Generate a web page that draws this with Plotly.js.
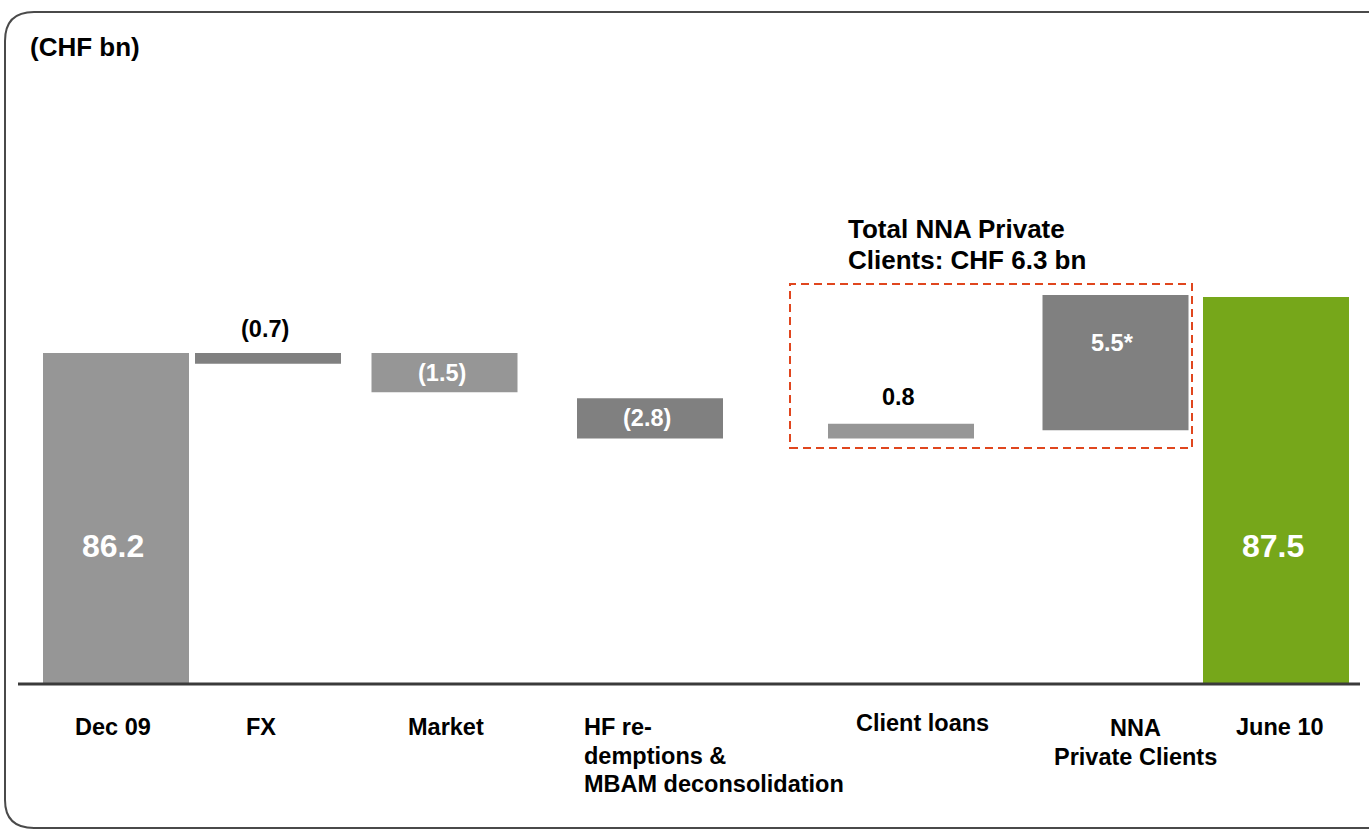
<!DOCTYPE html>
<html>
<head>
<meta charset="utf-8">
<script src="https://cdn.plot.ly/plotly-3.0.1.min.js"></script>
<style>html,body{margin:0;padding:0;background:#fff;}#chart{width:1369px;height:830px;}</style>
</head>
<body>
<div id="chart"></div>
<script>
// ---- data (CHF bn) ----
const categories = ['Dec 09', 'FX', 'Market', 'HF re-<br>demptions &<br>MBAM deconsolidation', 'Client loans', 'NNA<br>Private Clients', 'June 10'];
const valueLabels = ['86.2', '(0.7)', '(1.5)', '(2.8)', '0.8', '5.5*', '87.5'];
// bar extents as drawn in the slide (not to scale)
const barBottom = [0, 83.4, 76.0, 63.9, 63.9, 66.1, 0];
const barTop = [86.2, 86.2, 86.2, 74.4, 67.8, 101.3, 100.8];
const unitLabel = '(CHF bn)';
const calloutLines = ['Total NNA Private', 'Clients: CHF 6.3 bn'];

// ---- layout / style ----
const W = 1369, H = 830;
const PX_PER_UNIT = 3.84, BASE_PX = 684;
const barCenters = [116, 268, 444.5, 650, 901, 1115.5, 1276];
const barWidth = 146;
const barColors = ['#969696', '#808080', '#969696', '#808080', '#969696', '#808080', '#76A71A'];
// where each value label sits
const labelMode = ['base', 'above', 'middle', 'middle', 'above', 'top', 'base'];
const labelShift = [138, 24, 0, 0, 27, -48, 138];
const labelColor = ['#fff', '#000', '#fff', '#fff', '#000', '#fff', '#fff'];
const labelSize = [32, 23.5, 23.5, 23.5, 23.5, 23.5, 32];
// category label placement
const catX = [113, 261, 446, 582, 922, 1135, 1280];
const catAnchor = ['center', 'center', 'center', 'left', 'center', 'center', 'center'];
const catY = [727, 727, 727, 727, 723, 728, 727];
const LINE = 28.5;

const font = 'Liberation Sans, Arial, Helvetica, sans-serif';
const py = v => 1 - v / H; // pixel row -> paper

const trace = {
  type: 'bar',
  x: barCenters,
  y: barTop.map((t, i) => t - barBottom[i]),
  base: barBottom,
  width: barCenters.map(() => barWidth),
  marker: {color: barColors, line: {width: 0}},
  hoverinfo: 'skip',
  showlegend: false
};

const annotations = [];
valueLabels.forEach((lab, i) => {
  let y;
  if (labelMode[i] === 'base') y = barBottom[i];
  else if (labelMode[i] === 'above' || labelMode[i] === 'top') y = barTop[i];
  else y = (barTop[i] + barBottom[i]) / 2;
  annotations.push({
    xref: 'x', yref: 'y', x: barCenters[i], y: y, yshift: labelShift[i], xshift: -3,
    text: lab, showarrow: false, xanchor: 'center', yanchor: 'middle',
    font: {family: font, size: labelSize[i], color: labelColor[i], weight: 'bold'}
  });
});

categories.forEach((c, i) => {
  c.split('<br>').forEach((line, j) => {
    annotations.push({
      xref: 'x', yref: 'paper', x: catX[i], y: py(catY[i] + j * LINE),
      text: line, showarrow: false, xanchor: catAnchor[i], yanchor: 'middle',
      font: {family: font, size: 23.5, color: '#000', weight: 'bold'}
    });
  });
});

annotations.push({
  xref: 'x', yref: 'paper', x: 28, y: py(47), text: unitLabel, showarrow: false,
  xanchor: 'left', yanchor: 'middle', font: {family: font, size: 26, color: '#000', weight: 'bold'}
});
calloutLines.forEach((t, j) => {
  annotations.push({
    xref: 'x', yref: 'paper', x: 846, y: py(229 + j * 31), text: t, showarrow: false,
    xanchor: 'left', yanchor: 'middle', font: {family: font, size: 26, color: '#000', weight: 'bold'}
  });
});

const shapes = [
  // rounded frame
  {type: 'path', xref: 'paper', yref: 'paper',
   path: `M ${1400/W},${py(12)} L ${34/W},${py(12)} Q ${5/W},${py(12)} ${5/W},${py(41)} L ${5/W},${py(800)} Q ${5/W},${py(828)} ${34/W},${py(828)} L ${1400/W},${py(828)}`,
   line: {color: '#4a4a4a', width: 2}},
  // baseline
  {type: 'line', xref: 'x', yref: 'y', x0: 18, x1: 1360, y0: 0, y1: 0,
   line: {color: '#3a3a3a', width: 3}},
  // dashed NNA box
  {type: 'rect', xref: 'x', yref: 'paper', x0: 790, x1: 1192, y0: py(448), y1: py(284),
   line: {color: '#E0461E', width: 2, dash: '8px,5px'}, fillcolor: 'rgba(0,0,0,0)'}
];

const layout = {
  width: W, height: H,
  margin: {l: 0, r: 0, t: 0, b: 0},
  paper_bgcolor: '#fff', plot_bgcolor: '#fff',
  xaxis: {range: [0, W], visible: false, fixedrange: true},
  yaxis: {range: [-(H - BASE_PX) / PX_PER_UNIT, BASE_PX / PX_PER_UNIT], visible: false, fixedrange: true},
  annotations: annotations,
  shapes: shapes,
  showlegend: false
};

Plotly.newPlot('chart', [trace], layout, {staticPlot: true, displayModeBar: false});
</script>
</body>
</html>
